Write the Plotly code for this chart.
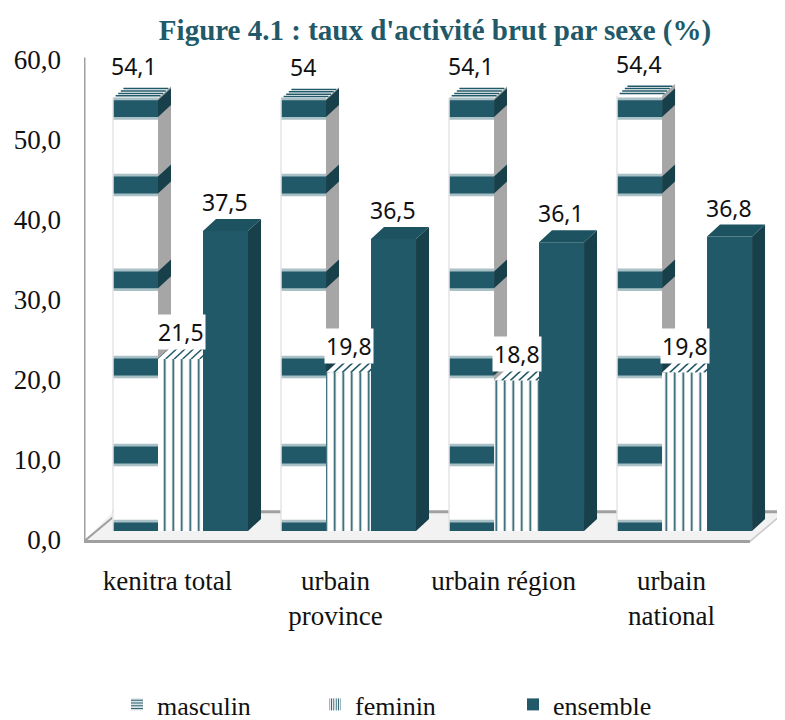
import plotly.graph_objects as go

categories = ["kenitra total", "urbain<br>province", "urbain région", "urbain<br>national"]
masculin = [54.1, 54.0, 54.1, 54.4]
feminin = [21.5, 19.8, 18.8, 19.8]
ensemble = [37.5, 36.5, 36.1, 36.8]
labels_m = ["54,1", "54", "54,1", "54,4"]
labels_f = ["21,5", "19,8", "18,8", "19,8"]
labels_e = ["37,5", "36,5", "36,1", "36,8"]
y_ticks = [0, 10, 20, 30, 40, 50, 60]
y_ticktext = ["0,0", "10,0", "20,0", "30,0", "40,0", "50,0", "60,0"]

TEAL = "#215968"
DARK = "#17404b"
TOP_E = "#1d5260"
GREY = "#a6a6a6"
PXX = 168.0
PXY = 8.0
DX = 13 / PXX
DY = 12 / PXY
BW = 45 / PXX
band_centers = [0.0, 9.5, 20.5, 31.4, 43.25, 52.8]
BT = 2.1

xs = [1, 2, 3, 4]
serif = "Liberation Serif"

# the page adds an 8 px body margin, so the figure is laid out from there
FIG_W = 777
FIG_H = 720
PAPER_H = FIG_H


def path(pts):
    return "M " + " L ".join(f"{a:.4f} {b:.4f}" for a, b in pts) + " Z"


shapes = []


def poly(pts, fill, line=None, w=0, layer="below"):
    shapes.append(dict(type="path", path=path(pts), fillcolor=fill, layer=layer,
                       line=dict(color=line or fill, width=w), xref="x", yref="y"))


def seg(p, q, color, w, layer="below"):
    shapes.append(dict(type="line", x0=p[0], y0=p[1], x1=q[0], y1=q[1], layer=layer,
                       line=dict(color=color, width=w), xref="x", yref="y"))


# floor and walls
xl = 0.4256
xf = 4.39
poly([(xl, -1.3), (xf, -1.3), (4.598, 2.4), (xl + 0.17, 2.4)], "#f2f2f2")
seg((xl, 59.2), (xl, -1.3), "#a0a0a0", 3)
seg((xl, -1.3), (xf, -1.3), "#a0a0a0", 3)
seg((xl, -1.3), (xl + 0.17, 1.7), "#a0a0a0", 2)
seg((xf, -1.3), (4.598, 2.4), "#c8c8c8", 1.5)
seg((xl + 0.17, 2.4), (4.598, 2.4), "#a0a0a0", 3)

for i, x in enumerate(xs):
    # masculin: side and top
    l = x - 1.5 * BW
    r = x - 0.5 * BW
    v = masculin[i]
    poly([(r, 0), (r + DX, DY), (r + DX, v + DY), (r, v)], GREY)
    for c in band_centers:
        lo = max(c - BT / 2, 0)
        poly([(r, lo), (r + DX, lo + DY), (r + DX, c + BT / 2 + DY), (r, c + BT / 2)], DARK)
        # soft edges, then the solid band, on the front face
        poly([(l, max(c - BT / 2 - 0.35, 0)), (r, max(c - BT / 2 - 0.35, 0)), (r, c + BT / 2 + 0.35), (l, c + BT / 2 + 0.35)],
             "#a9c0c6", layer="above")
        poly([(l, lo), (r, lo), (r, c + BT / 2), (l, c + BT / 2)], TEAL, layer="above")
    poly([(l, v), (r, v), (r + DX, v + DY), (l + DX, v + DY)], "#ffffff")
    for k in range(1, 5):
        f = k / 5
        seg((l + DX * f, v + DY * f), (r + DX * f, v + DY * f), TEAL, 1.5)
    seg((l, 0), (l, v), "#e4e4e4", 1.5, layer="above")
    # feminin: top
    l = x - 0.5 * BW
    r = x + 0.5 * BW
    v = feminin[i]
    poly([(l, v), (r, v), (r + DX, v + DY), (l + DX, v + DY)], "#ffffff")
    for k in range(5):
        a = l + (k + 0.9) * 8.5 / PXX
        seg((a, v), (a + DX, v + DY), TEAL, 1.5)
    # ensemble: side and top
    l = x + 0.5 * BW
    r = x + 1.5 * BW
    v = ensemble[i]
    poly([(r, 0), (r + DX, DY), (r + DX, v + DY), (r, v)], DARK)
    poly([(l, v), (r, v), (r + DX, v + DY), (l + DX, v + DY)], TOP_E)

fig = go.Figure()
fig.add_bar(name="masculin", x=xs, y=masculin, width=BW, offset=-1.5 * BW, showlegend=False,
            marker=dict(color="#ffffff", line=dict(width=0)))
fig.add_bar(name="feminin", x=xs, y=feminin, width=BW, offset=-0.5 * BW, showlegend=False,
            marker=dict(color="#ffffff", line=dict(width=0),
                        pattern=dict(shape="|", fgcolor=TEAL, bgcolor="#ffffff", fgopacity=1, size=8.5, solidity=0.2)))
fig.add_bar(name="ensemble", x=xs, y=ensemble, width=BW, offset=0.5 * BW, showlegend=False,
            marker=dict(color=TEAL, line=dict(width=0)))

# legend keys
fig.add_bar(name="masculin", x=[None], y=[None],
            marker=dict(color="#ffffff", line=dict(width=0),
                        pattern=dict(shape="-", fgcolor=TEAL, bgcolor="#ffffff", fgopacity=1, size=3.5, solidity=0.45)))
fig.add_bar(name="feminin", x=[None], y=[None],
            marker=dict(color="#ffffff", line=dict(width=0),
                        pattern=dict(shape="|", fgcolor=TEAL, bgcolor="#ffffff", fgopacity=1, size=3, solidity=0.4)))
fig.add_bar(name="ensemble", x=[None], y=[None], marker=dict(color=TEAL, line=dict(width=0)))

annotations = []
for i, x in enumerate(xs):
    annotations.append(dict(x=x - BW - 0.006, y=masculin[i], text=labels_m[i], showarrow=False, yshift=32))
    annotations.append(dict(x=x, y=feminin[i], text=labels_f[i], showarrow=False, yshift=27,
                            bgcolor="#ffffff", borderpad=1))
    annotations.append(dict(x=x + BW - 0.006, y=ensemble[i], text=labels_e[i], showarrow=False, yshift=29))
for a in annotations:
    a.update(font=dict(family="Noto Sans", size=23, color="#111111"), yanchor="middle", xanchor="center")

fig.update_layout(
    width=FIG_W, height=FIG_H, autosize=False,
    margin=dict(l=0, r=0, t=0, b=0),
    paper_bgcolor="#ffffff", plot_bgcolor="rgba(0,0,0,0)",
    barmode="overlay",
    showlegend=True,
    title=dict(text="<b>Figure 4.1 : taux d'activité brut par sexe (%)</b>",
               xref="container", yref="container", x=427 / FIG_W, y=1 - 22 / FIG_H,
               xanchor="center", yanchor="middle",
               font=dict(family=serif, size=29, color=TEAL)),
    legend=dict(orientation="h", x=109 / FIG_W, y=0, xanchor="left", yanchor="bottom",
                entrywidth=153, entrywidthmode="pixels", font=dict(family=serif, size=26, color="#111111"),
                bgcolor="rgba(0,0,0,0)", traceorder="normal"),
    xaxis=dict(domain=[76 / FIG_W, 1], range=[xl, 4.598], tickmode="array", tickvals=xs, ticktext=categories,
               ticks="", showgrid=False, zeroline=False, showline=False, automargin=False,
               ticklabelstandoff=14, ticklabelshift=-13,
               tickfont=dict(family=serif, size=27, color="#111111")),
    yaxis=dict(domain=[(PAPER_H - 540) / PAPER_H, (PAPER_H - 42) / PAPER_H], range=[-2.125, 60.125],
               tickmode="array", tickvals=y_ticks, automargin=False,
               ticktext=y_ticktext, ticks="", showgrid=False, zeroline=False, showline=False,
               ticklabelstandoff=22, ticklabelshift=9,
               tickfont=dict(family=serif, size=27, color="#111111")),
    shapes=shapes, annotations=annotations,
)
fig.write_html("out.html")
